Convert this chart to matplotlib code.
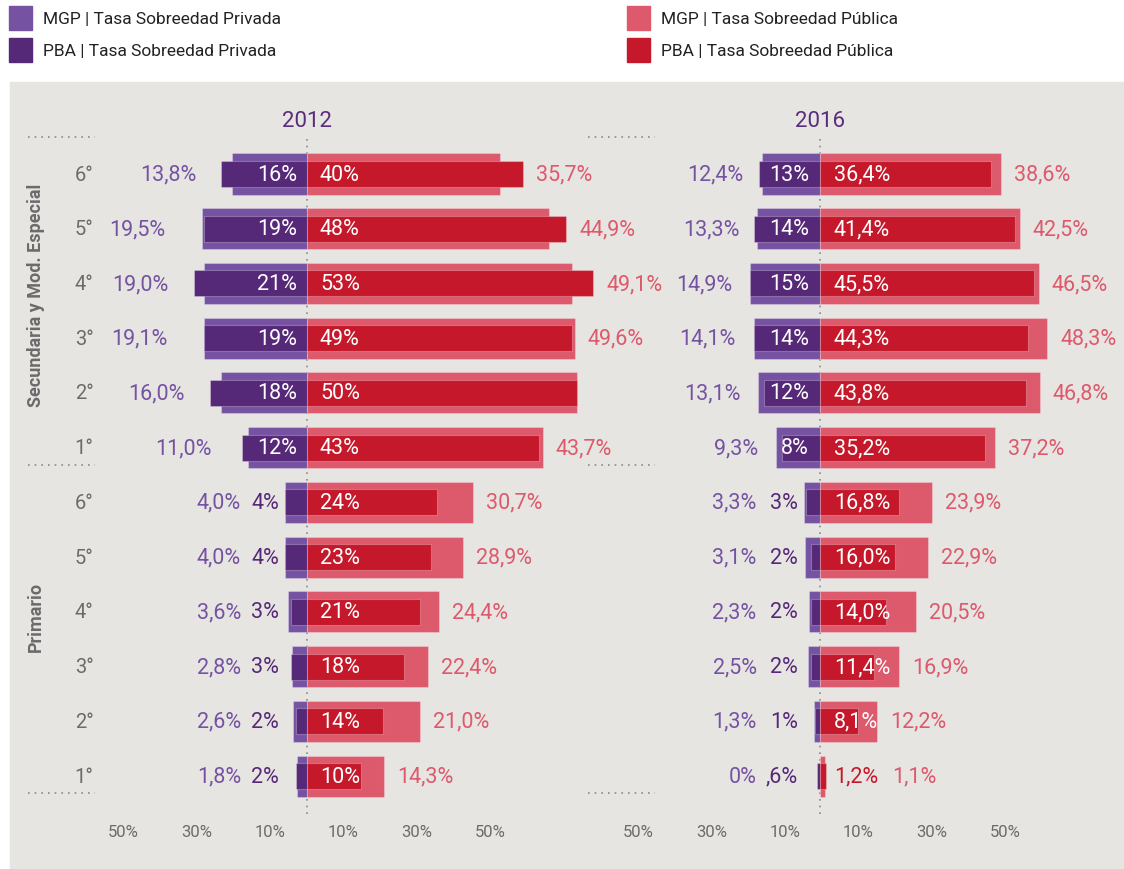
import matplotlib
matplotlib.use("Agg")
import matplotlib.pyplot as plt
import matplotlib.transforms as mtransforms
from matplotlib.patches import Rectangle
from matplotlib.lines import Line2D

plt.rcParams['font.family'] = ['Roboto', 'DejaVu Sans']

# data
grades = ['6°', '5°', '4°', '3°', '2°', '1°', '6°', '5°', '4°', '3°', '2°', '1°']
levels = ['Secundaria y Mod. Especial', 'Primario']

mgp_priv_2012 = [13.8, 19.5, 19.0, 19.1, 16.0, 11.0, 4.0, 4.0, 3.6, 2.8, 2.6, 1.8]
pba_priv_2012 = [16, 19, 21, 19, 18, 12, 4, 4, 3, 3, 2, 2]
pba_pub_2012 = [40, 48, 53, 49, 50, 43, 24, 23, 21, 18, 14, 10]
mgp_pub_2012 = [35.7, 44.9, 49.1, 49.6, 50.0, 43.7, 30.7, 28.9, 24.4, 22.4, 21.0, 14.3]

mgp_priv_2016 = [12.4, 13.3, 14.9, 14.1, 13.1, 9.3, 3.3, 3.1, 2.3, 2.5, 1.3, 0.0]
pba_priv_2016 = [13, 14, 15, 14, 12, 8, 3, 2, 2, 2, 1, 0.6]
pba_pub_2016 = [36.4, 41.4, 45.5, 44.3, 43.8, 35.2, 16.8, 16.0, 14.0, 11.4, 8.1, 1.2]
mgp_pub_2016 = [38.6, 42.5, 46.5, 48.3, 46.8, 37.2, 23.9, 22.9, 20.5, 16.9, 12.2, 1.1]

tick_labels = ['50%', '30%', '10%', '10%', '30%', '50%']

C_MGP_PRIV = '#7553a2'
C_PBA_PRIV = '#562878'
C_MGP_PUB = '#dd596c'
C_PBA_PUB = '#c5192b'
BG = '#e7e5e1'
GREY = '#6b6b6b'

W, H = 1124, 870
fig = plt.figure(figsize=(W / 100, H / 100), dpi=100)
fig.patch.set_facecolor('white')

# grey panel
fig.patches.append(Rectangle((10 / W, 0), 1 - 10 / W, 1 - 83 / H,
                             transform=fig.transFigure, color=BG, zorder=-5))

# legend
legend = [(9, 7, C_MGP_PRIV, 'MGP | Tasa Sobreedad Privada'),
          (9, 39, C_PBA_PRIV, 'PBA | Tasa Sobreedad Privada'),
          (627, 7, C_MGP_PUB, 'MGP | Tasa Sobreedad Pública'),
          (627, 39, C_PBA_PUB, 'PBA | Tasa Sobreedad Pública')]
for lx, ly, c, txt in legend:
    fig.patches.append(Rectangle((lx / W, 1 - (ly + 24) / H), 23 / W, 24 / H,
                                 transform=fig.transFigure, color=c))
    fig.text((lx + 34) / W, 1 - (ly + 12) / H, txt, fontsize=12.5,
             color='#222222', va='center', ha='left')


def fmt(v, d):
    return f'{v:.{d}f}'.replace('.', ',') + '%'


def panel(px_left, px_right, px_center, scale, year, mgp_priv, pba_priv,
          pba_pub, mgp_pub, pba_dec, pub_dec, mgp_off, pba_in, pub_in,
          prim_mgp_x, prim_pba_x, overrides, ticks):
    top, bottom = 100, 818
    row_px = 54.73
    ax = fig.add_axes([px_left / W, 1 - bottom / H, (px_right - px_left) / W,
                       (bottom - top) / H])
    ax.set_facecolor('none')
    ax.set_xlim((px_left - px_center) / scale, (px_right - px_center) / scale)
    ax.set_ylim((bottom - 175) / row_px, (top - 175) / row_px)
    for s in ax.spines.values():
        s.set_visible(False)
    ax.set_yticks([])
    ax.set_xticks(ticks)
    ax.set_xticklabels(tick_labels, fontsize=12, color=GREY)
    ax.tick_params(axis='x', length=0, pad=5)

    y = list(range(len(grades)))
    ax.plot([0, 0], [(140 - 175) / row_px, (816 - 175) / row_px], ls=(0, (1, 3)),
            color='#8a8a8a', lw=1.2, zorder=1)
    edge = (1, 1, 1, 0.25)
    ax.barh(y, [-v for v in mgp_priv], height=0.75, color=C_MGP_PRIV,
            edgecolor=edge, lw=0.8, zorder=2)
    ax.barh(y, [-v for v in pba_priv], height=0.475, color=C_PBA_PRIV,
            edgecolor=edge, lw=0.8, zorder=3)
    ax.barh(y, mgp_pub, height=0.75, color=C_MGP_PUB, edgecolor=edge, lw=0.8,
            zorder=2)
    ax.barh(y, pba_pub, height=0.475, color=C_PBA_PUB, edgecolor=edge, lw=0.8,
            zorder=3)

    kw = dict(fontsize=15.5, va='center')
    for i in y:
        lab_mgp_priv = overrides.get(('mgp_priv', i), fmt(mgp_priv[i], 1))
        lab_pba_priv = overrides.get(('pba_priv', i), fmt(pba_priv[i], pba_dec))
        lab_pba_pub = overrides.get(('pba_pub', i), fmt(pba_pub[i], pub_dec))
        lab_mgp_pub = overrides.get(('mgp_pub', i), fmt(mgp_pub[i], 1))
        if i < 6:
            ax.text(-pba_in, i, lab_pba_priv, color='white', ha='right',
                    zorder=5, **kw)
            ax.text(-max(mgp_priv[i], 0) - mgp_off, i, lab_mgp_priv,
                    color=C_MGP_PRIV, ha='right', **kw)
        else:
            ax.text(prim_pba_x, i, lab_pba_priv, color=C_PBA_PRIV, ha='right',
                    **kw)
            ax.text(prim_mgp_x, i, lab_mgp_priv, color=C_MGP_PRIV, ha='right',
                    **kw)
        if pba_pub[i] < 3:
            ax.text(pub_in, i, lab_pba_pub, color=C_PBA_PUB, ha='left',
                    zorder=5, **kw)
            xm = pub_in + 58 / scale
        else:
            ax.text(pub_in, i, lab_pba_pub, color='white', ha='left',
                    zorder=5, **kw)
            xm = max(mgp_pub[i], pba_pub[i]) + 13 / scale
        if lab_mgp_pub:
            ax.text(xm, i, lab_mgp_pub, color=C_MGP_PUB, ha='left', **kw)

    ax.text(0, (121 - 175) / row_px, year, color='#5a2d7c', fontsize=16,
            ha='center', va='center')
    return ax


ticks_2012 = [-34.07, -20.37, -6.85, 6.73, 20.3, 33.9]
ticks_2016 = [-38.7, -23.0, -7.45, 8.15, 23.8, 39.4]

ax1 = panel(100, 620, 307, 5.4, '2012', mgp_priv_2012, pba_priv_2012,
            pba_pub_2012, mgp_pub_2012, 0, 0, 36 / 5.4, 10 / 5.4, 13 / 5.4,
            -12.2, -5.2, {('mgp_pub', 4): ''}, ticks_2012)
ax2 = panel(620, 1124, 820, 4.7, '2016', mgp_priv_2016, pba_priv_2016,
            pba_pub_2016, mgp_pub_2016, 0, 1, 18 / 4.7, 11 / 4.7, 14 / 4.7,
            -13.5, -4.7, {('mgp_priv', 11): '0%', ('pba_priv', 11): ',6%'},
            ticks_2016)

# row labels
tr = mtransforms.blended_transform_factory(fig.transFigure, ax1.transData)
for i, g in enumerate(grades):
    ax1.text(84 / W, i, g, transform=tr, color=GREY, fontsize=14.5,
             ha='center', va='center')

fig.text(36 / W, 1 - 295 / H, levels[0], rotation=90, color=GREY,
         fontsize=13, fontweight='bold', ha='center', va='center')
fig.text(36 / W, 1 - 617 / H, levels[1], rotation=90, color=GREY,
         fontsize=13, fontweight='bold', ha='center', va='center')

# dotted separators
for yy in (138, 466, 794):
    for x0, x1 in ((28, 95), (588, 655)):
        fig.add_artist(Line2D([x0 / W, x1 / W], [1 - yy / H, 1 - yy / H],
                              transform=fig.transFigure, color='#8a8a8a',
                              lw=1.2, ls=(0, (1, 3))))

fig.savefig('out.png', dpi=100, facecolor='white')
